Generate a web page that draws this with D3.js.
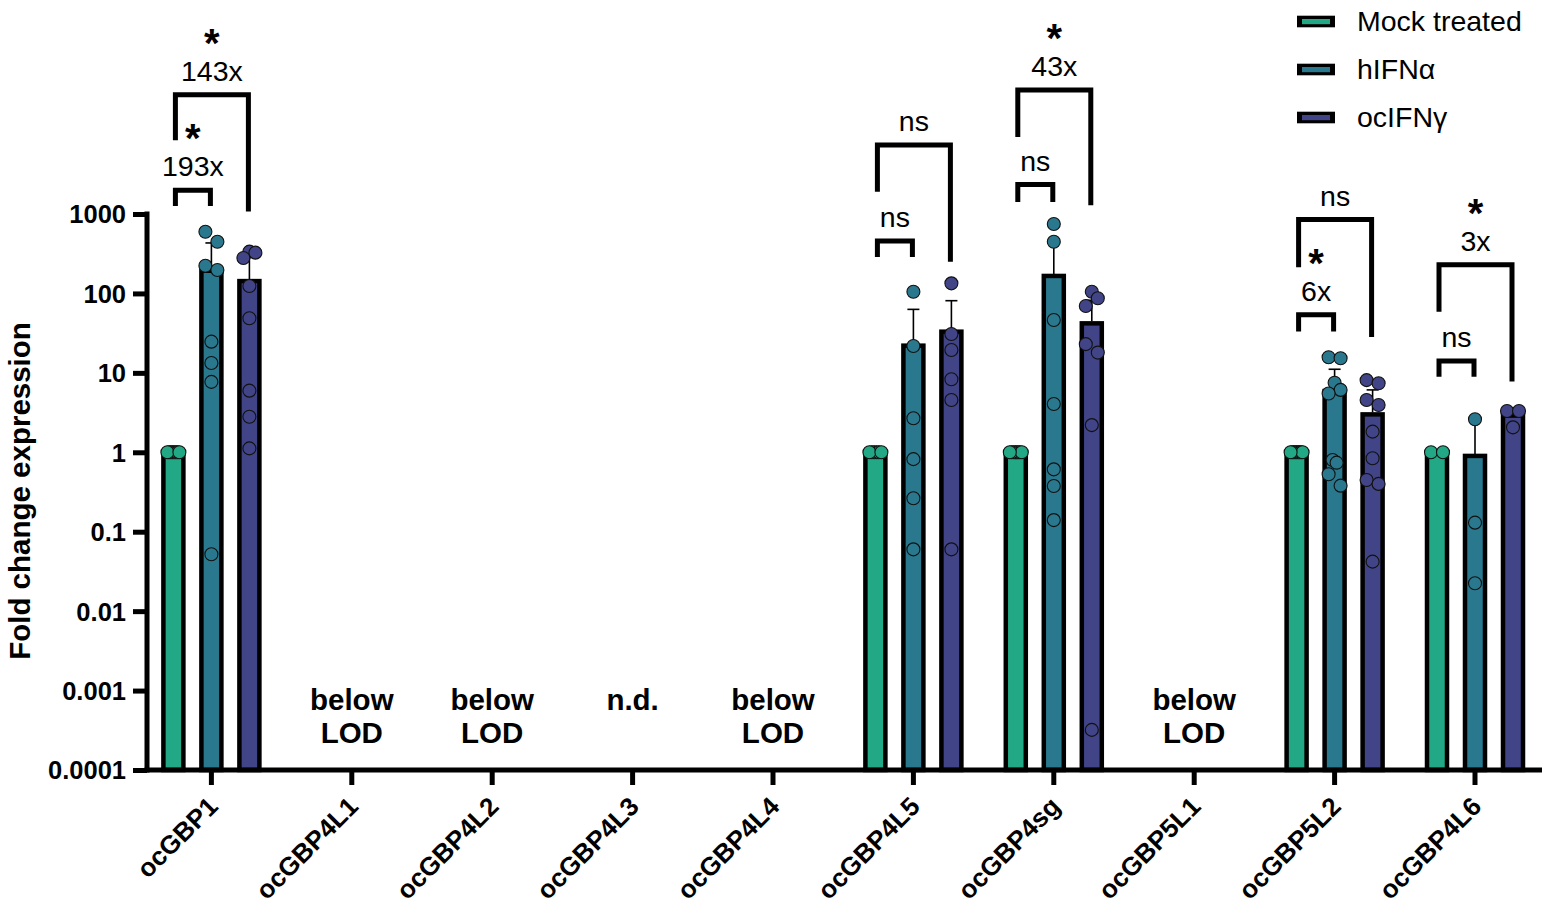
<!DOCTYPE html>
<html>
<head>
<meta charset="utf-8">
<script src="https://cdn.jsdelivr.net/npm/d3@7"></script>
<style>
	body { margin: 0; background: #fff; }
	svg { display: block; font-family: "Liberation Sans", Arial, sans-serif; }
</style>
</head>
<body>
<svg width="1550" height="910"></svg>
<script>
/*
DATI
*/
var genes = ["ocGBP1","ocGBP4L1","ocGBP4L2","ocGBP4L3","ocGBP4L4","ocGBP4L5","ocGBP4sg","ocGBP5L1","ocGBP5L2","ocGBP4L6"];
var seriesNames = ["Mock treated","hIFNα","ocIFNγ"];
var seriesColors = ["#22a884","#2a788e","#414487"];

var yTickValues = [0.0001, 0.001, 0.01, 0.1, 1, 10, 100, 1000];
var yTickLabels = ["0.0001","0.001","0.01","0.1","1","10","100","1000"];

// media (altezza barra), null = nessuna barra
var meanMock  = [1, null, null, null, null, 1, 1, null, 1, 1];
var meanHIFN  = [193, null, null, null, null, 22, 166, null, 5.9, 0.9];
var meanOcIFN = [143, null, null, null, null, 33, 42, null, 3.0, 2.9];

// deviazione standard (solo verso l'alto)
var sdMock  = [0, null, null, null, null, 0, 0, null, 0, 0];
var sdHIFN  = [239, null, null, null, null, 41, 284, null, 5.2, 1.5];
var sdOcIFN = [147, null, null, null, null, 48, 40, null, 3.1, 0.7];

// singoli punti
var ptsMock = [[1,1,1,1,1,1,1,1], [], [], [], [], [1,1,1,1,1,1], [1,1,1,1,1,1,1], [], [1,1,1,1,1,1,1,1,1], [1,1]];
var ptsHIFN = [[599,448,223,197,24.7,13.3,7.7,0.052], [], [], [], [],
	[105,21.8,2.68,0.82,0.264,0.060],
	[748,448,46.3,4.06,0.61,0.377,0.14], [],
	[15.7,15.3,7.5,6.1,5.5,0.80,0.74,0.53,0.38],
	[2.6,0.13,0.0224]];
var ptsOcIFN = [[336,326,279,124,48.6,5.97,2.8,1.12], [], [], [], [],
	[134,30.8,19.4,8.3,4.55,0.060],
	[105,87,69.5,23,18,2.2,0.00032], [],
	[8.1,7.4,4.55,3.94,1.82,0.84,0.448,0.4,0.042],
	[3.31,3.31,2.06]];

// testo per i geni senza barre
var notes = [null, ["below","LOD"], ["below","LOD"], ["n.d."], ["below","LOD"], null, null, ["below","LOD"], null, null];

// confronti statistici (livelli in log10)
var sigGene     = ["ocGBP1","ocGBP1","ocGBP4L5","ocGBP4L5","ocGBP4sg","ocGBP4sg","ocGBP5L2","ocGBP5L2","ocGBP4L6","ocGBP4L6"];
var sigTo       = [1,2,1,2,1,2,1,2,1,2];
var sigText     = ["193x","143x","ns","ns","ns","43x","6x","ns","ns","3x"];
var sigStar     = [1,1,0,0,0,1,1,0,0,1];
var sigTop      = [3.30,4.50,2.66,3.87,3.37,4.56,1.73,2.93,1.15,2.36];
var sigLeftEnd  = [3.10,3.93,2.46,3.28,3.15,3.97,1.52,2.33,0.95,1.77];
var sigRightEnd = [3.10,3.03,2.46,2.40,3.15,3.11,1.52,1.45,0.95,0.89];

/*
SCALE
*/
var svg = d3.select("svg");
var y = d3.scaleLog().domain([0.0001, 1000]).range([770, 214]);
var x = d3.scaleBand().domain(genes).range([141.2, 1545.2]);
var xSub = d3.scaleBand().domain([0,1,2]).range([-57, 57]);
var raggio = 6.5;

function centroBarra(g, s){
	return x(g) + x.bandwidth()/2 + xSub(s) + xSub.bandwidth()/2
}

/*
RITORNA GLI SPOSTAMENTI ORIZZONTALI DEI PUNTI CHE SI SOVRAPPONGONO
*/
function spostamenti(ys){
	var ordine = ys.map(function(d,i){ return i }).sort(function(a,b){ return ys[a]-ys[b] })
	var offs = ys.map(function(){ return 0 })
	var gruppi = []
	ordine.forEach(function(i,k){
		if (k>0 && ys[i]-ys[ordine[k-1]] < 12){
			gruppi[gruppi.length-1].push(i)
		} else {
			gruppi.push([i])
		}
	})
	gruppi.forEach(function(gr){
		var n = gr.length
		if (n<2) return
		var s = Math.min(12, 12/(n-1))
		gr.forEach(function(i,k){
			var lato = (k%2==0) ? 1 : -1
			if (n%2==1){
				offs[i] = k==0 ? 0 : -lato*Math.ceil(k/2)*s
			} else {
				offs[i] = (k%2==0 ? -1 : 1)*(Math.floor(k/2)+0.5)*s
			}
		})
	})
	return offs
}

/*
DISEGNA GLI ASSI
*/
function disegnaAssi(){
	var ay = svg.append("g")
		.attr("transform", "translate(147,0)")
		.call(d3.axisLeft(y).tickValues(yTickValues)
			.tickFormat(function(d,i){ return yTickLabels[i] })
			.tickSize(14).tickSizeOuter(0).tickPadding(7))
	ay.select(".domain").attr("stroke-width", 5).attr("d", "M0,772.5V211.5")
	ay.selectAll(".tick line").attr("stroke-width", 5)
	ay.selectAll(".tick text")
		.attr("font-size", 25.5).attr("font-weight", "bold")
		.attr("font-family", "Liberation Sans, Arial, sans-serif")
		.attr("fill", "#000").attr("dy", "0.35em")

	var ax = svg.append("g")
		.attr("transform", "translate(0,770)")
		.call(d3.axisBottom(x).tickSize(15).tickSizeOuter(0))
	ax.select(".domain").remove()
	ax.selectAll(".tick line").attr("stroke-width", 5)
	ax.selectAll(".tick text")
		.attr("font-size", 26).attr("font-weight", "bold")
		.attr("font-family", "Liberation Sans, Arial, sans-serif")
		.attr("fill", "#000")
		.attr("text-anchor", "end")
		.attr("y", 0).attr("dy", 0)
		.attr("transform", "translate(8,38) rotate(-45)")

	svg.append("line")
		.attr("x1", 144.5).attr("x2", 1542)
		.attr("y1", 770).attr("y2", 770)
		.attr("stroke", "#000").attr("stroke-width", 5)

	svg.append("text")
		.attr("transform", "translate(30,491) rotate(-90)")
		.attr("text-anchor", "middle")
		.attr("font-size", 29.5).attr("font-weight", "bold")
		.text("Fold change expression")
}

/*
DISEGNA BARRE, BARRE DI ERRORE E PUNTI
*/
function disegnaSerie(s, medie, sd, punti){
	var righe = genes.map(function(g,i){
		return {gene: g, media: medie[i], sd: sd[i], punti: punti[i]}
	}).filter(function(d){ return d.media != null })

	var gs = svg.append("g").attr("class", "serie"+s)

	gs.selectAll("rect")
		.data(righe)
		.enter().append("rect")
		.attr("x", function(d){ return centroBarra(d.gene, s) - 10 })
		.attr("width", 20)
		.attr("y", function(d){ return y(d.media) })
		.attr("height", function(d){ return y(0.0001) - y(d.media) })
		.attr("fill", seriesColors[s])
		.attr("stroke", "#000")
		.attr("stroke-width", 4.5)

	var err = righe.filter(function(d){ return d.sd > 0 })
	gs.selectAll("line.err")
		.data(err)
		.enter().append("line")
		.attr("class", "err")
		.attr("x1", function(d){ return centroBarra(d.gene, s) })
		.attr("x2", function(d){ return centroBarra(d.gene, s) })
		.attr("y1", function(d){ return y(d.media) - 2 })
		.attr("y2", function(d){ return y(d.media + d.sd) })
		.attr("stroke", "#000").attr("stroke-width", 1.6)
	gs.selectAll("line.cap")
		.data(err)
		.enter().append("line")
		.attr("class", "cap")
		.attr("x1", function(d){ return centroBarra(d.gene, s) - 6 })
		.attr("x2", function(d){ return centroBarra(d.gene, s) + 6 })
		.attr("y1", function(d){ return y(d.media + d.sd) })
		.attr("y2", function(d){ return y(d.media + d.sd) })
		.attr("stroke", "#000").attr("stroke-width", 1.6)

	var tutti = []
	righe.forEach(function(d){
		var ys = d.punti.map(function(v){ return y(v) })
		var offs = spostamenti(ys)
		ys.forEach(function(yy,k){
			tutti.push({cx: centroBarra(d.gene, s) + offs[k], cy: yy})
		})
	})
	gs.selectAll("circle")
		.data(tutti)
		.enter().append("circle")
		.attr("cx", function(d){ return d.cx })
		.attr("cy", function(d){ return d.cy })
		.attr("r", raggio)
		.attr("fill", seriesColors[s])
		.attr("stroke", "#111")
		.attr("stroke-width", 1.1)
}

/*
DISEGNA LE PARENTESI DI SIGNIFICATIVITA'
*/
function disegnaConfronti(){
	var g = svg.append("g").attr("class", "confronti")
	sigGene.forEach(function(gene,i){
		var xl = centroBarra(gene, 0) + 2
		var xr = centroBarra(gene, sigTo[i]) - 1
		var yt = y(Math.pow(10, sigTop[i]))
		g.append("path")
			.attr("d", "M"+xl+","+y(Math.pow(10, sigLeftEnd[i]))+"V"+yt+"H"+xr+"V"+y(Math.pow(10, sigRightEnd[i])))
			.attr("fill", "none").attr("stroke", "#000")
			.attr("stroke-width", 5).attr("stroke-linejoin", "miter")
		var xm = (xl+xr)/2
		g.append("text")
			.attr("x", xm).attr("y", yt - 14)
			.attr("text-anchor", "middle")
			.attr("font-size", 28.5)
			.text(sigText[i])
		if (sigStar[i]){
			g.append("text")
				.attr("x", xm).attr("y", yt - 38)
				.attr("text-anchor", "middle")
				.attr("font-size", 40).attr("font-weight", "bold")
				.text("*")
		}
	})
}

/*
DISEGNA LE NOTE (below LOD, n.d.)
*/
function disegnaNote(){
	genes.forEach(function(g,i){
		if (notes[i]==null) return
		notes[i].forEach(function(riga,k){
			svg.append("text")
				.attr("x", x(g) + x.bandwidth()/2)
				.attr("y", 710 + k*33)
				.attr("text-anchor", "middle")
				.attr("font-size", 29.5).attr("font-weight", "bold")
				.text(riga)
		})
	})
}

/*
DISEGNA LA LEGENDA
*/
function disegnaLegenda(){
	var leg = svg.append("g").selectAll("g")
		.data(seriesNames)
		.enter().append("g")
		.attr("transform", function(d,i){ return "translate(0," + (i*48) + ")" })
	leg.append("rect")
		.attr("x", 1297).attr("y", 15.7)
		.attr("width", 38).attr("height", 11.6)
		.attr("fill", "#000")
	leg.append("rect")
		.attr("x", 1302).attr("y", 19)
		.attr("width", 28).attr("height", 5.2)
		.attr("fill", function(d,i){ return seriesColors[i] })
	leg.append("text")
		.attr("x", 1357).attr("y", 30.5)
		.attr("font-size", 28.5)
		.text(function(d){ return d })
}

/*
=========
LIVELLO 0
=========
*/
disegnaSerie(0, meanMock, sdMock, ptsMock)
disegnaSerie(1, meanHIFN, sdHIFN, ptsHIFN)
disegnaSerie(2, meanOcIFN, sdOcIFN, ptsOcIFN)
disegnaAssi()
disegnaConfronti()
disegnaNote()
disegnaLegenda()
</script>
</body>
</html>
